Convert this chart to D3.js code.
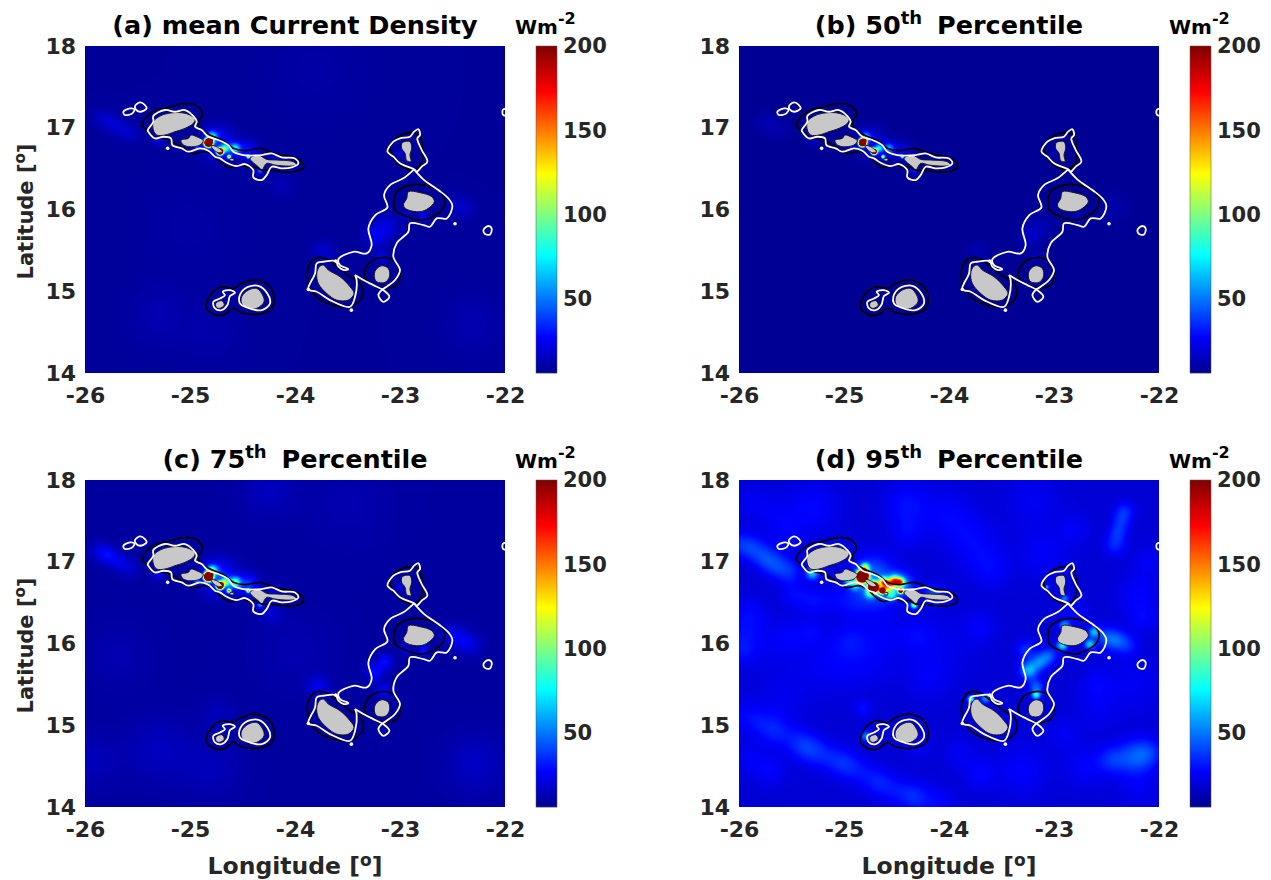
<!DOCTYPE html>
<html>
<head>
<meta charset="utf-8">
<script src="https://d3js.org/d3.v7.min.js"></script>
<style>
body {margin: 0; background: white;}
text {font-family: "DejaVu Sans", sans-serif; font-weight: bold;}
.tick text {fill: #262626;}
</style>
</head>
<body>
<script>
// panel titles: [before superscript, superscript, after]
var titles = [
  ["(a) mean Current Density", "", ""],
  ["(b) 50", "th", " Percentile"],
  ["(c) 75", "th", " Percentile"],
  ["(d) 95", "th", " Percentile"]
];
var lonTicks = [-26, -25, -24, -23, -22];
var latTicks = [14, 15, 16, 17, 18];
var cbarTicks = [50, 100, 150, 200];
var cbarRange = [6, 200];

// background level of each panel (Wm-2)
var baseLevel = [8, 7, 9, 19];

// power blobs: lon, lat, peak above background, radius (deg)
var fieldMean = [
  [-24.825, 16.817, 600, .032], [-24.80, 16.85, 120, .02], [-24.714, 16.707, 500, .025], [-24.735, 16.735, 120, .02], [-24.628, 16.645, 130, .018], [-24.444, 16.645, 120, .016],
  [-24.793, 16.890, 60, .05], [-24.571, 16.748, 60, .05], [-24.667, 16.748, 70, .04], [-24.333, 16.474, 40, .03],
  [-24.936, 16.768, 35, .03], [-24.730, 16.810, 22, .15], [-24.45, 16.72, 22, .09], [-24.18, 16.62, 10, .08],
  [-25.85, 17.13, 6, .09], [-25.75, 17.06, 9, .09], [-25.65, 16.98, 7, .09], [-25.55, 16.92, 6, .09], [-24.127, 16.299, 5, .12], [-25.3, 16.86, 14, .06],
  [-23.238, 15.667, 14, .10], [-23.127, 15.79, 12, .12], [-22.778, 15.912, 18, .05], [-23.0, 16.687, 15, .03],
  [-22.46, 16.05, 7, .1], [-22.36, 15.99, 5, .1], [-23.73, 15.483, 10, .10], [-23.174, 15.42, 14, .06], [-22.95, 15.93, 10, .05],
  [-25.3, 14.7, 4, .3], [-22.3, 14.6, 4, .3], [-24.8, 14.5, 3, .3], [-25.0, 15.8, 2, .5], [-23.8, 17.7, 2, .5]
];
var fieldP50 = [
  [-24.825, 16.817, 550, .03], [-24.80, 16.85, 100, .02], [-24.714, 16.707, 450, .023], [-24.735, 16.735, 100, .02], [-24.628, 16.645, 110, .018], [-24.444, 16.645, 90, .016],
  [-24.793, 16.890, 45, .05], [-24.571, 16.748, 45, .05], [-24.667, 16.748, 60, .04], [-24.333, 16.474, 25, .03],
  [-24.936, 16.768, 25, .03], [-24.730, 16.810, 14, .14], [-24.45, 16.72, 14, .09], [-25.75, 17.06, 5, .1],
  [-25.62, 16.97, 4, .1], [-25.3, 16.86, 8, .06], [-23.238, 15.667, 8, .10], [-23.127, 15.79, 6, .12],
  [-22.778, 15.912, 8, .05], [-23.0, 16.687, 8, .03], [-22.428, 16.034, 4, .14], [-23.73, 15.483, 5, .10],
  [-23.174, 15.42, 7, .06]
];
var fieldP75 = [
  [-24.825, 16.817, 620, .034], [-24.80, 16.85, 130, .02], [-24.714, 16.707, 520, .027], [-24.735, 16.735, 130, .02], [-24.628, 16.645, 140, .02], [-24.444, 16.645, 130, .018],
  [-24.793, 16.890, 75, .05], [-24.571, 16.748, 75, .05], [-24.667, 16.748, 80, .04], [-24.333, 16.474, 45, .03],
  [-24.936, 16.768, 40, .03], [-24.730, 16.810, 28, .16], [-24.45, 16.72, 28, .10], [-24.18, 16.62, 12, .08],
  [-25.87, 17.13, 10, .09], [-25.78, 17.08, 16, .08], [-25.68, 17.0, 12, .09], [-25.57, 16.92, 8, .09], [-24.22, 16.37, 8, .1], [-25.3, 16.86, 16, .06],
  [-23.24, 15.65, 20, .08], [-23.14, 15.78, 20, .07], [-23.16, 15.42, 18, .07], [-22.778, 15.912, 22, .05], [-23.0, 16.687, 20, .03],
  [-22.52, 16.12, 10, .1], [-22.41, 16.04, 14, .1], [-22.30, 15.97, 8, .1], [-23.78, 15.47, 14, .1], [-22.95, 15.93, 14, .05],
  [-25.3, 14.7, 6, .3], [-22.29, 14.53, 7, .28], [-24.8, 14.5, 5, .3], [-25.94, 14.57, 5, .25],
  [-24.25, 17.88, 6, .25], [-23.5, 17.7, 3, .4], [-25.68, 15.84, 3, .3], [-24.73, 15.14, 5, .15], [-24.0, 15.9, 3, .4]
];
var fieldP95 = [
  // straits and island corners
  [-24.825, 16.82, 550, .046], [-24.80, 16.86, 130, .03], [-24.72, 16.69, 520, .04], [-24.635, 16.645, 300, .026], [-24.46, 16.645, 280, .022],
  [-24.52, 16.76, 120, .05], [-24.46, 16.75, 100, .04], [-24.58, 16.70, 80, .05], [-24.80, 16.93, 80, .04], [-24.62, 16.75, 110, .045], [-24.333, 16.47, 85, .03],
  [-24.96, 16.78, 50, .04], [-24.9, 16.72, 45, .05], [-24.75, 16.62, 50, .05], [-24.55, 16.6, 50, .05],
  [-24.73, 16.80, 30, .2], [-24.45, 16.72, 28, .12], [-24.15, 16.60, 22, .09],
  [-25.30, 16.86, 45, .06], [-25.05, 17.14, 25, .05], [-23.07, 16.69, 40, .02], [-22.90, 16.55, 30, .04],
  [-22.92, 15.98, 55, .05], [-22.66, 15.99, 45, .05], [-22.62, 16.14, 40, .05], [-22.90, 16.22, 35, .05],
  [-23.79, 15.32, 70, .03], [-23.65, 15.33, 35, .05], [-23.17, 15.37, 55, .04], [-24.79, 14.87, 30, .05],
  // between the eastern islands
  [-23.24, 15.67, 42, .08], [-23.14, 15.77, 30, .08], [-23.05, 15.85, 24, .08], [-23.17, 15.47, 26, .07],
  [-23.27, 15.92, 16, .09], [-22.52, 16.08, 18, .1], [-22.41, 16.04, 22, .1], [-22.30, 15.98, 12, .1], [-22.8, 16.35, 10, .12],
  // western streak
  [-26.0, 17.22, 12, .12], [-25.88, 17.17, 14, .12], [-25.76, 17.06, 16, .12], [-25.65, 16.96, 16, .12], [-25.52, 16.88, 14, .12],
  // arc south of the northern islands
  [-25.49, 16.6, 8, .12], [-25.3, 16.53, 9, .14], [-25.1, 16.53, 6, .14], [-24.9, 16.49, 8, .15], [-24.67, 16.53, 7, .15],
  [-25.9, 16.37, 8, .16], [-25.97, 16.1, 6, .16], [-25.97, 15.9, 8, .14], [-25.7, 16.0, 5, .25],
  // southern band
  [-26.0, 15.14, 6, .16], [-25.83, 15.04, 7, .14], [-25.66, 14.93, 12, .15], [-25.45, 14.8, 9, .14], [-25.33, 14.71, 15, .14], [-25.17, 14.62, 10, .14],
  [-25.0, 14.53, 14, .14], [-24.84, 14.43, 8, .14], [-24.67, 14.3, 12, .14], [-24.5, 14.2, 8, .14], [-24.33, 14.12, 14, .14], [-24.1, 14.05, 8, .16],
  [-24.82, 15.2, 10, .08], [-25.6, 15.3, 5, .25],
  // south east
  [-22.25, 14.61, 20, .16], [-22.1, 14.66, 16, .14], [-22.45, 14.58, 14, .13], [-22.7, 14.5, 8, .2], [-22.2, 14.25, 6, .2],
  [-23.3, 14.45, 8, .25],
  // north east and top
  [-22.33, 17.62, 14, .09], [-22.36, 17.5, 12, .09], [-22.39, 17.36, 14, .09], [-22.42, 17.2, 14, .1], [-23.1, 17.1, 7, .25],
  [-23.75, 17.2, 8, .25], [-24.0, 17.55, 8, .25], [-24.4, 17.7, 10, .22], [-25.3, 17.65, 9, .25], [-25.7, 17.6, 5, .2],
  [-23.2, 17.75, 6, .25], [-22.2, 16.6, 8, .2], [-22.25, 15.5, 6, .3], [-22.6, 15.2, 5, .2],
  [-24.1, 15.95, 5, .35], [-24.8, 15.85, 7, .3], [-25.2, 15.75, 6, .3], [-24.2, 15.55, 5, .2], [-24.6, 16.15, 4, .2],
  // faint texture
  [-25.7, 14.45, 8, .15], [-25.9, 14.6, 6, .15], [-23.7, 14.4, 8, .15], [-24.3, 14.75, 6, .12], [-23.9, 14.65, 6, .15],
  [-25.5, 16.1, 5, .15], [-25.3, 16.15, 6, .12], [-24.95, 16.05, 6, .15], [-24.3, 16.1, 6, .15], [-23.7, 16.2, 7, .15],
  [-23.6, 16.9, 7, .18], [-24.4, 17.35, 7, .15], [-25.55, 17.35, 6, .15], [-25.9, 17.75, 5, .15], [-22.8, 17.4, 6, .15],
  [-22.1, 17.0, 6, .15], [-22.15, 16.3, 7, .14], [-22.6, 15.5, 6, .15], [-22.9, 14.9, 6, .15]
];
var fields = [fieldMean, fieldP50, fieldP75, fieldP95];

// island outlines, lon/lat
var islands = [
  [[-25.349,17.074],[-25.286,17.143],[-25.206,17.176],[-25.079,17.184],[-25.0,17.156],[-24.952,17.103],[-24.968,17.054],[-25.048,16.992],[-25.143,16.952],[-25.238,16.911],[-25.317,16.911],[-25.349,16.972]],
  [[-25.086,16.850],[-25.016,16.870],[-24.990,16.911],[-24.936,16.890],[-24.873,16.841],[-24.905,16.788],[-25.016,16.768],[-25.073,16.801]],
  [[-24.80,16.784],[-24.746,16.768],[-24.692,16.707],[-24.73,16.695],[-24.778,16.735]],
  [[-24.619,16.621],[-24.584,16.621],[-24.584,16.597],[-24.616,16.597]],
  [[-24.428,16.625],[-24.349,16.666],[-24.270,16.613],[-24.174,16.605],[-24.016,16.584],[-23.984,16.544],[-24.063,16.531],[-24.190,16.544],[-24.270,16.564],[-24.317,16.482],[-24.349,16.523],[-24.397,16.572]],
  [[-22.978,16.818],[-22.905,16.830],[-22.889,16.748],[-22.905,16.667],[-22.895,16.585],[-22.936,16.597],[-22.952,16.687],[-22.984,16.748]],
  [[-22.920,16.218],[-22.809,16.206],[-22.698,16.157],[-22.673,16.095],[-22.730,16.014],[-22.809,15.973],[-22.936,16.002],[-22.968,16.055],[-22.936,16.136]],
  [[-23.232,15.259],[-23.174,15.312],[-23.111,15.279],[-23.101,15.177],[-23.143,15.108],[-23.222,15.116],[-23.244,15.177]],
  [[-23.768,15.300],[-23.730,15.320],[-23.682,15.259],[-23.571,15.177],[-23.476,15.055],[-23.438,14.973],[-23.492,14.892],[-23.603,14.892],[-23.698,14.973],[-23.778,15.096],[-23.793,15.218]],
  [[-24.508,14.933],[-24.444,15.014],[-24.365,15.035],[-24.308,14.953],[-24.295,14.871],[-24.365,14.790],[-24.460,14.790],[-24.508,14.851]],
  [[-24.752,14.859],[-24.698,14.884],[-24.673,14.831],[-24.721,14.790],[-24.752,14.810]]
];

// black contour around each island group
var blackContours = [
  [[-25.454,17.033],[-25.413,17.135],[-25.317,17.217],[-25.206,17.249],[-25.095,17.290],[-24.984,17.290],[-24.905,17.237],[-24.882,17.156],[-24.920,17.074],[-24.905,16.992],[-24.809,16.911],[-24.667,16.829],[-24.587,16.748],[-24.476,16.719],[-24.333,16.748],[-24.190,16.686],[-24.016,16.637],[-23.936,16.584],[-23.920,16.515],[-24.0,16.462],[-24.127,16.462],[-24.238,16.482],[-24.317,16.482],[-24.381,16.523],[-24.444,16.515],[-24.508,16.544],[-24.635,16.515],[-24.730,16.605],[-24.778,16.666],[-24.857,16.707],[-24.984,16.686],[-25.063,16.748],[-25.159,16.829],[-25.238,16.870],[-25.333,16.882],[-25.397,16.952]],
  [[-23.095,16.769],[-23.016,16.891],[-22.905,16.940],[-22.809,16.899],[-22.787,16.728],[-22.793,16.585],[-22.841,16.503],[-22.920,16.491],[-23.016,16.565],[-23.079,16.667]],
  [[-23.032,16.218],[-22.905,16.299],[-22.778,16.299],[-22.635,16.238],[-22.571,16.116],[-22.603,15.993],[-22.698,15.912],[-22.809,15.871],[-22.936,15.912],[-23.047,15.993],[-23.057,16.116]],
  [[-23.333,15.259],[-23.254,15.381],[-23.127,15.410],[-23.032,15.341],[-23.0,15.177],[-23.032,15.075],[-23.143,15.035],[-23.254,15.075],[-23.333,15.157]],
  [[-23.873,15.300],[-23.809,15.402],[-23.714,15.402],[-23.603,15.300],[-23.476,15.177],[-23.381,15.096],[-23.349,14.994],[-23.397,14.871],[-23.508,14.810],[-23.635,14.831],[-23.778,14.912],[-23.857,15.035],[-23.882,15.177]],
  [[-24.848,14.810],[-24.794,14.973],[-24.698,15.055],[-24.587,15.035],[-24.508,15.096],[-24.381,15.137],[-24.254,15.075],[-24.200,14.933],[-24.222,14.790],[-24.349,14.720],[-24.508,14.737],[-24.587,14.790],[-24.683,14.708],[-24.778,14.720]]
];

// white contour, closed loops
var whiteLoops = [
  [[-25.403,16.972],[-25.349,17.074],[-25.349,17.143],[-25.238,17.217],[-25.143,17.196],[-25.048,17.217],[-24.968,17.143],[-24.936,17.074],[-24.952,17.013],[-24.889,16.972],[-24.825,16.890],[-24.730,16.850],[-24.635,16.788],[-24.587,16.707],[-24.492,16.666],[-24.317,16.666],[-24.222,16.686],[-24.127,16.637],[-24.0,16.625],[-23.968,16.564],[-24.032,16.515],[-24.127,16.503],[-24.222,16.523],[-24.270,16.421],[-24.317,16.360],[-24.397,16.393],[-24.397,16.482],[-24.476,16.556],[-24.555,16.531],[-24.651,16.572],[-24.714,16.625],[-24.762,16.646],[-24.825,16.719],[-24.905,16.748],[-25.016,16.707],[-25.079,16.748],[-25.168,16.788],[-25.181,16.870],[-25.254,16.890],[-25.333,16.870],[-25.397,16.952]],
  [[-25.635,17.196],[-25.571,17.237],[-25.530,17.225],[-25.549,17.176],[-25.619,17.156]],
  [[-25.524,17.266],[-25.476,17.311],[-25.429,17.278],[-25.413,17.237],[-25.476,17.196],[-25.517,17.225]],
  [[-23.120,16.707],[-23.063,16.830],[-23.0,16.871],[-22.905,16.891],[-22.866,16.952],[-22.825,16.981],[-22.809,16.911],[-22.835,16.871],[-22.793,16.728],[-22.739,16.585],[-22.793,16.524],[-22.841,16.463],[-22.866,16.491],[-23.0,16.565],[-23.063,16.646]],
  [[-24.530,14.933],[-24.476,15.035],[-24.349,15.067],[-24.263,14.973],[-24.238,14.851],[-24.317,14.769],[-24.476,14.810],[-24.524,14.851]],
  [[-24.778,14.871],[-24.714,14.912],[-24.667,14.953],[-24.689,14.994],[-24.619,15.014],[-24.571,14.982],[-24.619,14.941],[-24.644,14.831],[-24.698,14.769],[-24.762,14.790]],
  [[-22.196,15.769],[-22.158,15.798],[-22.127,15.769],[-22.143,15.695],[-22.190,15.700],[-22.206,15.741]],
  [[-22.02,17.22],[-21.99,17.23],[-21.99,17.15],[-22.02,17.16]]
];
// white contour, open runs between the eastern islands
var whiteRuns = [
  [[-22.866,16.491],[-22.968,16.381],[-23.095,16.299],[-23.152,16.177],[-23.120,16.026],[-23.235,15.932],[-23.301,15.769],[-23.270,15.565],[-23.317,15.463],[-23.444,15.483],[-23.587,15.390],[-23.571,15.320],[-23.492,15.271],[-23.533,15.259],[-23.587,15.300],[-23.613,15.369],[-23.730,15.361],[-23.793,15.341],[-23.809,15.218],[-23.873,15.022],[-23.793,14.994],[-23.667,14.892],[-23.476,14.810],[-23.428,14.933],[-23.413,15.137],[-23.428,15.198]],
  [[-22.866,16.491],[-22.778,16.369],[-22.635,16.238],[-22.539,16.136],[-22.501,16.042],[-22.555,15.891],[-22.650,15.891],[-22.714,15.789],[-22.778,15.810],[-22.905,15.830],[-22.920,15.728],[-23.032,15.585],[-23.063,15.422],[-23.0,15.259],[-23.047,15.137],[-23.127,15.055],[-23.174,15.014],[-23.206,14.953],[-23.159,14.871],[-23.101,14.933],[-23.159,15.014],[-23.254,15.075],[-23.349,15.137],[-23.428,15.198]]
];
var whiteDots = [[-25.213,16.748],[-23.613,15.369],[-23.873,15.022],[-23.463,14.769],[-22.476,15.826]];

var W = 1271, H = 880;
var plotW = 420, plotH = 327;
var panelX = [85, 739, 85, 739];
var panelY = [46, 46, 480, 480];

var svg = d3.select("body").append("svg").attr("width", W).attr("height", H);

// jet colour map
var t2v = function(t) { return cbarRange[0] + t * (cbarRange[1] - cbarRange[0]); };
var jet = d3.scaleLinear()
  .domain([0, .11, .36, .61, .86, 1].map(t2v))
  .range(["#00008f", "#0000ff", "#00ffff", "#ffff00", "#ff0000", "#800000"])
  .clamp(true);

function drawField(g, x, y, blobs, base) {
  var canvas = document.createElement("canvas");
  canvas.width = plotW; canvas.height = plotH;
  var ctx = canvas.getContext("2d");
  var img = ctx.createImageData(plotW, plotH);
  for (var j = 0; j < plotH; j++) {
    var lat = y.invert(j + .5);
    for (var i = 0; i < plotW; i++) {
      var lon = x.invert(i + .5), v = base;
      blobs.forEach(function(b) {
        var dx = lon - b[0], dy = (lat - b[1]) * .78;
        v += b[2] * Math.exp(-(dx * dx + dy * dy) / (b[3] * b[3]));
      });
      var c = d3.rgb(jet(v)), k = (j * plotW + i) * 4;
      img.data[k] = c.r; img.data[k + 1] = c.g; img.data[k + 2] = c.b; img.data[k + 3] = 255;
    }
  }
  ctx.putImageData(img, 0, 0);
  g.append("image").attr("width", plotW).attr("height", plotH)
    .attr("href", canvas.toDataURL());
}

function addSup(sel, before, sup, after, size, raise, gap) {
  sel.append("tspan").text(before);
  if (sup) {
    sel.append("tspan").attr("font-size", size).attr("dy", -raise).text(sup);
    if (after) sel.append("tspan").attr("dy", raise).attr("dx", gap || 0).text(after);
  }
}

titles.forEach(function(title, p) {
  var x = d3.scaleLinear().domain([-26, -22]).range([0, plotW]);
  var y = d3.scaleLinear().domain([14, 18]).range([plotH, 0]);
  var g = svg.append("g").attr("transform", "translate(" + panelX[p] + "," + panelY[p] + ")");

  g.append("clipPath").attr("id", "clip" + p).append("rect").attr("width", plotW).attr("height", plotH);
  drawField(g, x, y, fields[p], baseLevel[p]);

  var map = g.append("g").attr("clip-path", "url(#clip" + p + ")");
  var px = function(d) { return x(d[0]); }, py = function(d) { return y(d[1]); };
  var run = d3.line().x(px).y(py).curve(d3.curveCatmullRom.alpha(.5));
  var loop = d3.line().x(px).y(py).curve(d3.curveCatmullRomClosed.alpha(.5));

  map.selectAll(".island").data(islands).enter().append("path").attr("class", "island")
    .attr("d", loop).attr("fill", "#c8c8c8").attr("stroke", "#1a1a1a").attr("stroke-width", 1);
  map.selectAll(".black").data(blackContours).enter().append("path").attr("class", "black")
    .attr("d", loop).attr("fill", "none").attr("stroke", "black").attr("stroke-width", 1.7);
  map.selectAll(".loop").data(whiteLoops).enter().append("path").attr("class", "loop")
    .attr("d", loop).attr("fill", "none").attr("stroke", "white").attr("stroke-width", 1.8);
  map.selectAll(".run").data(whiteRuns).enter().append("path").attr("class", "run")
    .attr("d", run).attr("fill", "none").attr("stroke", "white").attr("stroke-width", 1.8);
  map.selectAll(".dot").data(whiteDots).enter().append("circle").attr("class", "dot")
    .attr("cx", px).attr("cy", py).attr("r", 1.8).attr("fill", "white");

  // axes
  var xa = g.append("g").attr("transform", "translate(0," + plotH + ")")
    .call(d3.axisBottom(x).tickValues(lonTicks).tickSize(0).tickPadding(14).tickFormat(String));
  var ya = g.append("g")
    .call(d3.axisLeft(y).tickValues(latTicks).tickSize(0).tickPadding(9).tickFormat(String));
  [xa, ya].forEach(function(a) {
    a.select(".domain").remove();
    a.selectAll("text").attr("font-size", 22).attr("font-family", "DejaVu Sans").attr("font-weight", "bold");
  });

  // title
  var t = g.append("text").attr("x", 210).attr("y", -12).attr("text-anchor", "middle")
    .attr("font-size", 25.5).attr("fill", "black");
  addSup(t, title[0], title[1], title[2], 18, 10, 6);

  // colour bar
  var cbX = plotW + 31, cbW = 21;
  var cy = d3.scaleLinear().domain(cbarRange).range([plotH, 0]);
  var cb = g.append("g").attr("transform", "translate(" + cbX + ",0)");
  cb.selectAll("rect").data(d3.range(0, plotH)).enter().append("rect")
    .attr("y", function(d) { return d; }).attr("width", cbW).attr("height", 1.2)
    .attr("fill", function(d) { return jet(cy.invert(d + .5)); });
  cb.append("rect").attr("width", cbW).attr("height", plotH).attr("fill", "none")
    .attr("stroke", "#555").attr("stroke-width", .5);
  var ca = cb.append("g").attr("transform", "translate(" + cbW + ",0)")
    .call(d3.axisRight(cy).tickValues(cbarTicks).tickSize(0).tickPadding(6));
  ca.select(".domain").remove();
  ca.selectAll("text").attr("font-size", 21).attr("font-family", "DejaVu Sans").attr("font-weight", "bold");

  var u = g.append("text").attr("x", plotW + 10).attr("y", -12.5).attr("font-size", 20).attr("fill", "black");
  addSup(u, "Wm", "-2", "", 16, 10);

  // axis labels on the outer panels
  if (p == 0 || p == 2) {
    var yl = g.append("text").attr("transform", "translate(-52," + (plotH / 2 + 2) + ") rotate(-90)")
      .attr("text-anchor", "middle").attr("font-size", 21).attr("fill", "#262626");
    addSup(yl, "Latitude [", "o", "]", 15, 8);
  }
  if (p >= 2) {
    var xl = g.append("text").attr("x", 210).attr("y", plotH + 67)
      .attr("text-anchor", "middle").attr("font-size", 23.5).attr("fill", "#262626");
    addSup(xl, "Longitude [", "o", "]", 17, 8);
  }
});
</script>
</body>
</html>
